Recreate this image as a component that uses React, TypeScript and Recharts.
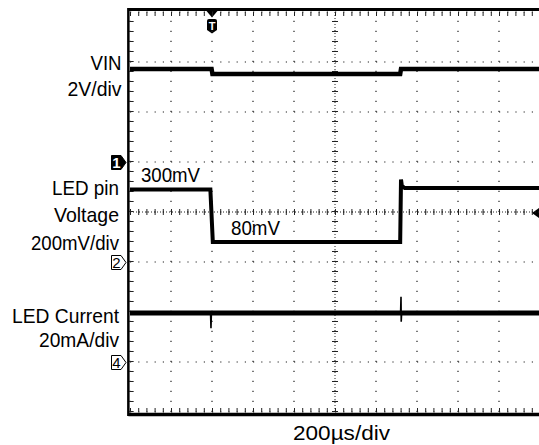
import { LineChart, Line, XAxis, YAxis, ReferenceLine, Customized } from 'recharts'

// time base: 200 µs/div, 10 divisions
const TIME_TICKS = [0, 200, 400, 600, 800, 1000, 1200, 1400, 1600, 1800, 2000]
const DIV_TICKS = [-4, -3, -2, -1, 0, 1, 2, 3, 4]

// channel 1 : VIN (V), 2 V/div, ground marker at +1 div
const VIN_T = [0, 398, 402, 1318, 1322, 2000]
const VIN_V = [3.72, 3.72, 3.52, 3.52, 3.72, 3.72]

// channel 2 : LED pin voltage (V), 200 mV/div, ground marker at -1 div
const LED_T = [0, 392, 404, 1318, 1322, 1326, 1340, 2000]
const LED_V = [0.29, 0.29, 0.08, 0.08, 0.33, 0.305, 0.296, 0.296]

// channel 4 : LED current (mA), 20 mA/div, ground marker at -3 div
const CUR_T = [0, 2000]
const CUR_MA = [19.6, 19.6]
// switching glitches on the current trace
const GLITCH1_T = [393, 395, 397]
const GLITCH1_MA = [19.6, 13.5, 19.6]
const GLITCH2_T = [1320, 1322, 1323, 1325]
const GLITCH2_MA = [19.6, 26.1, 16.1, 19.6]

const CH = {
  vin: { gnd: 1, perDiv: 2 },
  led: { gnd: -1, perDiv: 0.2 },
  cur: { gnd: -3, perDiv: 20 },
}

const toDivs = (t: number[], v: number[], ch: { gnd: number; perDiv: number }) =>
  t.map((time, i) => ({ t: time, y: ch.gnd + v[i] / ch.perDiv }))

const vinData = toDivs(VIN_T, VIN_V, CH.vin)
const ledData = toDivs(LED_T, LED_V, CH.led)
const curData = toDivs(CUR_T, CUR_MA, CH.cur)
const glitch1 = toDivs(GLITCH1_T, GLITCH1_MA, CH.cur)
const glitch2 = toDivs(GLITCH2_T, GLITCH2_MA, CH.cur)

const FONT = "'Liberation Sans', Arial, Helvetica, sans-serif"

function Annotations() {
  const t = (x: number, y: number, w: number, s: string, anchor: 'start' | 'end' = 'end') => (
    <text x={x} y={y} textAnchor={anchor} textLength={w} lengthAdjust="spacingAndGlyphs">
      {s}
    </text>
  )
  const marker = (cy: number, label: string, filled: boolean) => (
    <g>
      <path
        d={`M111.5 ${cy - 7} H121 L126 ${cy} L121 ${cy + 7} H111.5 Z`}
        fill={filled ? '#000' : '#fff'}
        stroke="#000"
        strokeWidth={1}
      />
      <text
        x={116.5}
        y={cy + 5.5}
        textAnchor="middle"
        fontSize={15}
        fontWeight={filled ? 'bold' : 'normal'}
        fill={filled ? '#fff' : '#000'}
      >
        {label}
      </text>
    </g>
  )
  return (
    <g fontFamily={FONT} fontSize={21} fill="#000">
      {t(121.5, 70, 31, 'VIN')}
      {t(121.5, 95.5, 54, '2V/div')}
      {t(119, 195, 67, 'LED pin')}
      {t(119, 222, 65, 'Voltage')}
      {t(119, 250, 88, '200mV/div')}
      {t(119, 323, 107, 'LED Current')}
      {t(119, 346.5, 80, '20mA/div')}
      {t(141, 181.5, 59, '300mV', 'start')}
      {t(231, 235, 49, '80mV', 'start')}
      {t(293, 439.5, 97, '200µs/div', 'start')}
      {marker(162.5, '1', true)}
      {marker(262.5, '2', false)}
      {marker(362.5, '4', false)}
      {/* trigger position */}
      <path d="M206.5 11 H217.5 L212 17.5 Z" fill="#000" />
      <path d="M207 21 Q207 19 209 19 H215 Q217 19 217 21 V30 L212 33.5 L207 30 Z" fill="#000" />
      <text x={212} y={29.5} textAnchor="middle" fontSize={11} fontWeight="bold" fill="#fff">
        T
      </text>
      {/* trigger level */}
      <path d="M532 213 L539 208 V218 Z" fill="#000" />
    </g>
  )
}

export default function App() {
  return (
    <div
      style={{
        position: 'absolute',
        left: 0,
        top: 0,
        width: 539,
        height: 445,
        overflow: 'hidden',
        background: '#fff',
      }}
    >
      <LineChart width={540} height={445} margin={{ top: 12, right: 0, left: 130, bottom: 33 }}>
        <XAxis dataKey="t" type="number" domain={[0, 2000]} ticks={TIME_TICKS} hide allowDataOverflow />
        <YAxis type="number" domain={[-4, 4]} ticks={DIV_TICKS} hide allowDataOverflow />

        {/* dotted graticule */}
        {DIV_TICKS.map((d) => (
          <ReferenceLine key={`h${d}`} y={d} stroke="#222" strokeWidth={1.2} strokeDasharray="1.2 7" />
        ))}
        {TIME_TICKS.map((t) => (
          <ReferenceLine key={`v${t}`} x={t} stroke="#222" strokeWidth={1.2} strokeDasharray="1.2 8.8" />
        ))}

        {/* centre axes with minor ticks */}
        <ReferenceLine y={0} stroke="#222" strokeDasharray="1 2" />
        <ReferenceLine y={0} stroke="#222" strokeWidth={6} strokeDasharray="1 7.2" />
        <ReferenceLine x={1000} stroke="#222" strokeDasharray="1 2" />
        <ReferenceLine x={1000} stroke="#222" strokeWidth={6} strokeDasharray="1 9" />

        {/* border ticks */}
        <ReferenceLine x={8} stroke="#222" strokeWidth={4} strokeDasharray="1 9" />
        <ReferenceLine y={3.96} stroke="#222" strokeWidth={4} strokeDasharray="1 7.2" />
        <ReferenceLine y={-3.96} stroke="#222" strokeWidth={4} strokeDasharray="1 7.2" />

        {/* frame */}
        <ReferenceLine
          segment={[{ x: -8, y: 4.05 }, { x: 2020, y: 4.05 }]}
          stroke="#000"
          strokeWidth={3}
          ifOverflow="visible"
        />
        <ReferenceLine
          segment={[{ x: -8, y: -4.05 }, { x: 2020, y: -4.05 }]}
          stroke="#000"
          strokeWidth={3.5}
          ifOverflow="visible"
        />
        <ReferenceLine
          segment={[{ x: -8, y: 4.08 }, { x: -8, y: -4.08 }]}
          stroke="#000"
          strokeWidth={2.5}
          ifOverflow="visible"
        />

        <Line data={vinData} dataKey="y" type="linear" dot={false} stroke="#000" strokeWidth={4.5} isAnimationActive={false} />
        <Line data={ledData} dataKey="y" type="linear" dot={false} stroke="#000" strokeWidth={4} isAnimationActive={false} />
        <Line data={curData} dataKey="y" type="linear" dot={false} stroke="#000" strokeWidth={5} isAnimationActive={false} />
        <Line data={glitch1} dataKey="y" type="linear" dot={false} stroke="#000" strokeWidth={1.6} isAnimationActive={false} />
        <Line data={glitch2} dataKey="y" type="linear" dot={false} stroke="#000" strokeWidth={1.6} isAnimationActive={false} />

        <Customized component={<Annotations />} />
      </LineChart>
    </div>
  )
}
